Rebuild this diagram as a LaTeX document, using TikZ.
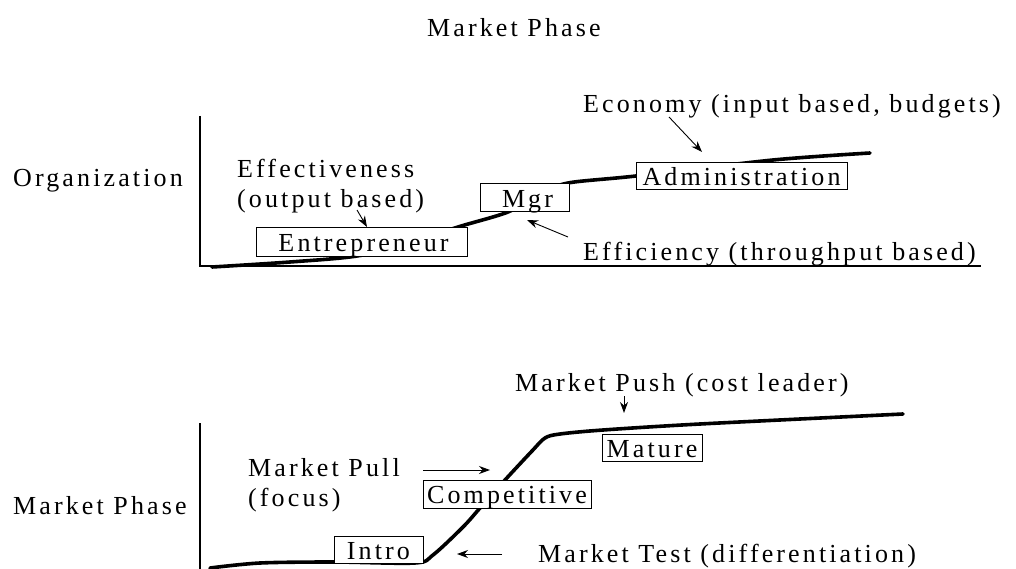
\documentclass[tikz,border=0pt]{standalone}
\usepackage{fontspec}
\setmainfont[LetterSpace=12]{Liberation Serif}
\usetikzlibrary{arrows.meta}
\begin{document}
\begin{tikzpicture}[x=1pt,y=-1pt,
  lbl/.style={anchor=base west,inner sep=0pt,font=\fontsize{26}{30}\selectfont,align=left},
  stagebox/.style={draw,fill=white,line width=1pt,inner sep=0pt,text height=19pt,text depth=0pt,font=\fontsize{26}{30}\selectfont},
  axis/.style={line width=2.5pt},
  growth/.style={line width=3.6pt,line cap=round},
  pointer/.style={line width=0.9pt,-{Stealth[length=11pt,width=8pt]}}]
\useasboundingbox (0,0) rectangle (1016,569);
% ---- top diagram ----
\node[lbl] (title) at (427,37) {Market Phase};
\node[lbl] (org) at (13,187) {Organization};
\draw[axis] (200,116) -- (200,266) -- (981,266);
\draw[growth] plot[smooth,tension=0.5] coordinates {(212,267) (290,262) (357,256) (410,243) (458,227) (508,212) (540,194) (568,183) (636,176) (773,160) (870,153)};
\node[stagebox,minimum width=211pt,minimum height=28pt] (entre) at (361.5,242) {\hspace*{4pt}Entrepreneur};
\node[stagebox,minimum width=89pt,minimum height=28pt] (mgr) at (524.5,198) {\hspace*{6pt}Mgr};
\node[stagebox,minimum width=211pt,minimum height=27pt] (admin) at (741.5,176.5) {Administration};
\node[lbl] (effect) at (237,208) {Effectiveness\\(output based)};
\node[lbl] (effic) at (583,260) {Efficiency (throughput based)};
\node[lbl] (econ) at (583,113) {Economy (input based, budgets)};
\coordinate (effA) at (357,210);
\coordinate (effB) at (367,227);
\coordinate (efcA) at (568,237);
\coordinate (efcB) at (527,220);
\coordinate (ecoA) at (669,117);
\coordinate (ecoB) at (702,152);
\draw[pointer] (effA) -- (effB);
\draw[pointer] (efcA) -- (efcB);
\draw[pointer] (ecoA) -- (ecoB);
% ---- bottom diagram ----
\node[lbl] (mphase) at (13,514) {Market Phase};
\draw[axis] (200,423) -- (200,569);
\draw[growth] plot[smooth,tension=0.5] coordinates {(210,568) (260,563) (334,562) (415,563) (433,555) (463,527) (480,508) (505,480) (532,451) (545,438) (560,434) (603,430) (700,424) (903,414)};
\node[stagebox,minimum width=89pt,minimum height=27pt] (intro) at (378.5,549.5) {Intro};
\node[stagebox,minimum width=168pt,minimum height=28pt] (comp) at (507,494) {Competitive};
\node[stagebox,minimum width=100pt,minimum height=27pt] (mature) at (652,447.5) {Mature};
\node[lbl] (push) at (515,391) {Market Push (cost leader)};
\node[lbl] (pull) at (248,506) {Market Pull\\(focus)};
\node[lbl] (test) at (538,562) {Market Test (differentiation)};
\coordinate (pullA) at (423,470);
\coordinate (pullB) at (490,470);
\coordinate (pushA) at (624,396);
\coordinate (pushB) at (624,413);
\coordinate (testA) at (502,554);
\coordinate (testB) at (457,554);
\draw[pointer] (pullA) -- (pullB);
\draw[pointer] (pushA) -- (pushB);
\draw[pointer] (testA) -- (testB);
\end{tikzpicture}
\end{document}
